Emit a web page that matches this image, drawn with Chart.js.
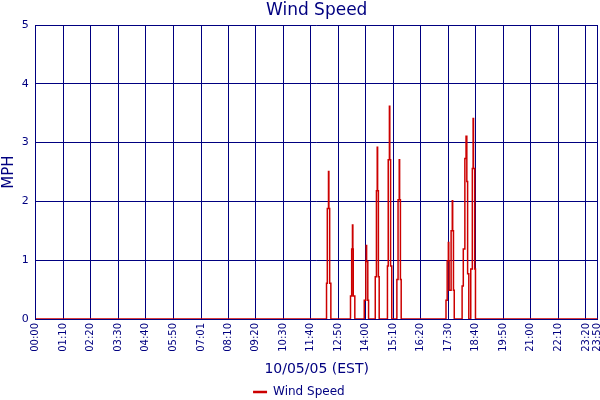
<!DOCTYPE html>
<html><head><meta charset="utf-8">
<script src="https://cdn.jsdelivr.net/npm/chart.js@4/dist/chart.umd.min.js"></script>
<style>html,body{margin:0;padding:0;background:#fff}#c{display:block}</style>
</head><body>
<canvas id="c" width="600" height="400"></canvas>
<script>
const chartTitle = "Wind Speed";
const xAxisTitle = "10/05/05 (EST)";
const yAxisTitle = "MPH";
const seriesName = "Wind Speed";

const tickLabels = ["00:00","01:10","02:20","03:30","04:40","05:50","07:01","08:10","09:20","10:30",
  "11:40","12:50","14:00","15:10","16:20","17:30","18:40","19:50","21:00","22:10","23:20","23:50"];

const sampleTimes = ["00:00",
  "12:20","12:22","12:25","12:26","12:28","12:31",
  "13:21","13:24","13:26","13:27","13:28","13:32",
  "13:56","14:00","14:01","14:02","14:05","14:07",
  "14:24","14:27","14:29","14:30","14:32","14:34",
  "14:55","14:57","15:00","15:01","15:03","15:06",
  "15:19","15:22","15:25","15:26","15:28","15:30",
  "17:24","17:27","17:30","17:31","17:32","17:37","17:40","17:41","17:43","17:45",
  "18:05","18:08","18:12","18:15","18:17","18:19","18:22",
  "18:27","18:31","18:33","18:34","18:37","18:39",
  "23:50"];
const windSpeed = [0,
  0.61,1.88,2.51,1.88,0.61,0,
  0.39,1.19,1.60,1.19,0.39,0,
  0.32,0.98,1.25,0.98,0.32,0,
  0.72,2.18,2.92,2.18,0.72,0,
  0.90,2.71,3.62,2.71,0.90,0,
  0.67,2.03,2.71,2.03,0.67,0,
  0.32,0.99,1.30,0.99,0.49,1.50,2.01,1.50,0.49,0,
  0.56,1.19,2.73,3.11,2.34,0.77,0,
  0.85,2.56,3.41,2.56,0.85,0,
  0];

const yMin = 0, yMax = 5, yStep = 1;

const navy = '#000080';
const red = '#cc0000';
const fam = "'DejaVu Sans', Verdana, sans-serif";

function toMinutes(t){ const p = t.split(':').map(Number); return p[0]*60 + p[1]; }
const tickMinutes = tickLabels.map(toMinutes);
const points = sampleTimes.map((t,i)=>({x: toMinutes(t), y: windSpeed[i]}));

new Chart(document.getElementById('c'), {
  type: 'line',
  data: { datasets: [{
    label: seriesName,
    data: points,
    borderColor: red,
    backgroundColor: red,
    borderWidth: 1.5,
    pointRadius: 0,
    stepped: 'before',
    fill: false
  }]},
  options: {
    responsive: false,
    animation: false,
    devicePixelRatio: 1,
    layout: { padding: { left: 0, right: 2.3, top: 0, bottom: -8 } },
    plugins: {
      title: { display: true, fullSize: false, text: chartTitle, color: navy,
        font: { family: fam, size: 17, weight: 'normal' }, padding: { top: 0, bottom: 4.6 } },
      legend: { position: 'bottom',
        labels: { color: navy, font: { family: fam, size: 12 }, usePointStyle: true,
          pointStyle: 'line', boxWidth: 14, pointStyleWidth: 14, padding: 2,
          generateLabels: (chart) => Chart.defaults.plugins.legend.labels.generateLabels(chart).map(l => Object.assign(l, { lineWidth: 2.5, strokeStyle: red })) } },
      tooltip: { enabled: false }
    },
    scales: {
      x: {
        type: 'linear', min: tickMinutes[0], max: tickMinutes[tickMinutes.length-1],
        afterBuildTicks: (s) => { s.ticks = tickMinutes.map(v => ({ value: v })); },
        afterFit: (s) => { s.paddingLeft = 0; s.paddingRight = 0; s.height = 65; },
        ticks: { autoSkip: false, maxRotation: 90, minRotation: 90, color: navy,
          font: { family: fam, size: 10 }, padding: 4,
          callback: (v, i) => tickLabels[i] },
        grid: { color: navy, lineWidth: 1, drawTicks: false },
        border: { color: navy, width: 1 },
        title: { display: true, text: xAxisTitle, color: navy, font: { family: fam, size: 14 }, padding: { top: 0, bottom: 6.6 } }
      },
      y: {
        min: yMin, max: yMax,
        afterFit: (s) => { s.width = 35.7; },
        ticks: { stepSize: yStep, color: navy, font: { family: fam, size: 11 }, padding: 7 },
        grid: { color: navy, lineWidth: 1, drawTicks: false },
        border: { color: navy, width: 1 },
        title: { display: true, text: yAxisTitle, color: navy, font: { family: fam, size: 15 }, padding: { top: 0, bottom: 2 } }
      }
    }
  }
});
</script>
</body></html>
